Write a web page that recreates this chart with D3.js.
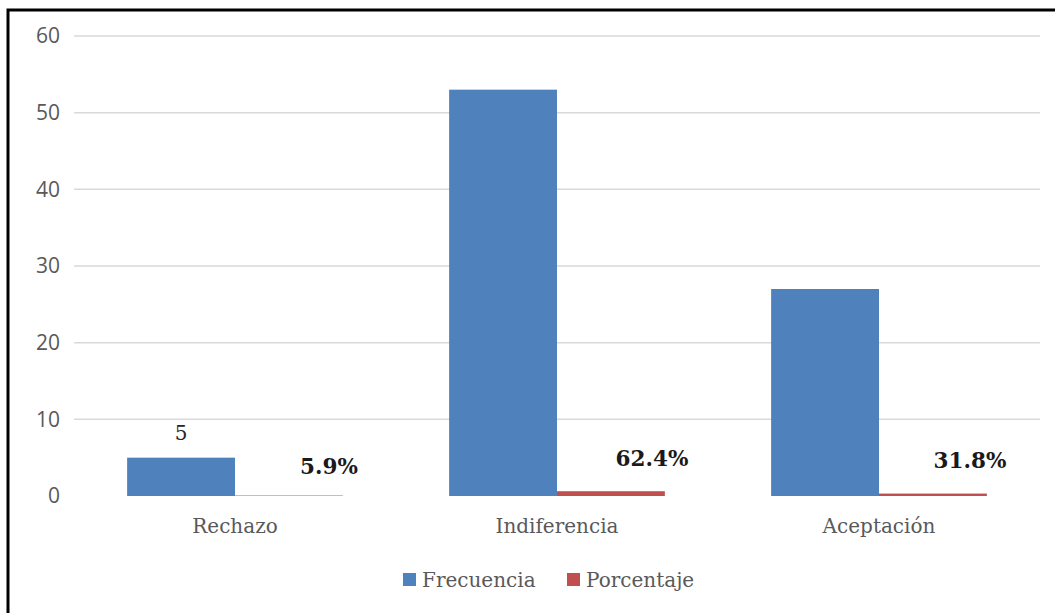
<!DOCTYPE html>
<html>
<head>
<meta charset="utf-8">
<script src="https://cdn.jsdelivr.net/npm/d3@7"></script>
<style>
  body { margin: 0; background: #fff; }
  svg { display: block; }
</style>
</head>
<body>
<svg id="chart" width="1055" height="613"></svg>
<script>
// chart data
const categories = ["Rechazo", "Indiferencia", "Aceptación"];
const frecuencia = [5, 53, 27];
const porcentaje = [5.9, 62.4, 31.8];
const seriesNames = ["Frecuencia", "Porcentaje"];
const yTicks = [0, 10, 20, 30, 40, 50, 60];

const colors = ["#4f81bd", "#c0504d"];
const serif = "'DejaVu Serif', serif";
const sans = "'Open Sans', sans-serif";

const svg = d3.select("#chart");

// frame (only top and left edges are visible in the picture)
svg.append("path")
  .attr("d", "M8,613 L8,10 L1055,10")
  .attr("fill", "none")
  .attr("stroke", "#000")
  .attr("stroke-width", 3);

const margin = { left: 74, right: 15, top: 36, bottom: 117 };
const width = 1055 - margin.left - margin.right;
const height = 613 - margin.top - margin.bottom;

const g = svg.append("g").attr("transform", `translate(${margin.left},${margin.top})`);

const x = d3.scaleBand().domain(categories).range([0, width]).paddingInner(0.33).paddingOuter(0.165);
const xs = d3.scaleBand().domain(seriesNames).range([0, x.bandwidth()]);
const y = d3.scaleLinear().domain([0, 60]).range([height, 0]);

// gridlines (no line at zero)
g.selectAll(".grid")
  .data(yTicks.filter((d) => d > 0))
  .enter()
  .append("line")
  .attr("class", "grid")
  .attr("x1", 0)
  .attr("x2", width)
  .attr("y1", (d) => y(d))
  .attr("y2", (d) => y(d))
  .attr("stroke", "#d9d9d9")
  .attr("stroke-width", 1.5);

// y tick labels
g.selectAll(".ytick")
  .data(yTicks)
  .enter()
  .append("text")
  .attr("x", -14)
  .attr("y", (d) => y(d))
  .attr("dy", "0.35em")
  .attr("text-anchor", "end")
  .attr("font-family", sans)
  .attr("font-size", 21)
  .attr("fill", "#595959")
  .text((d) => d);

// rows: one per category, percentages plotted as fractions on the same axis
const rows = categories.map((c, i) => ({
  cat: c,
  values: [
    { key: "Frecuencia", v: frecuencia[i], label: String(frecuencia[i]) },
    { key: "Porcentaje", v: porcentaje[i] / 100, label: porcentaje[i].toFixed(1) + "%" },
  ],
}));

const groups = g.selectAll(".cat")
  .data(rows)
  .enter()
  .append("g")
  .attr("class", "cat")
  .attr("transform", (d) => `translate(${x(d.cat)},0)`);

groups.selectAll("rect")
  .data((d) => d.values)
  .enter()
  .append("rect")
  .attr("x", (d) => xs(d.key))
  .attr("width", xs.bandwidth())
  .attr("y", (d) => y(d.v))
  .attr("height", (d) => y(0) - y(d.v))
  .attr("fill", (d, i) => colors[i]);

// value label for frequency only on first category (as in the picture)
groups.filter((d, i) => i === 0)
  .append("text")
  .attr("x", xs("Frecuencia") + xs.bandwidth() / 2)
  .attr("y", (d) => y(d.values[0].v) - 18)
  .attr("text-anchor", "middle")
  .attr("font-family", serif)
  .attr("font-size", 20)
  .attr("fill", "#262626")
  .text((d) => d.values[0].label);

// bold percentage labels, offset to the right of the red bars
const pctOffset = [[40, -30], [41, -38], [37, -36]];
groups.append("text")
  .attr("x", (d, i) => xs("Porcentaje") + xs.bandwidth() / 2 + pctOffset[i][0])
  .attr("y", (d, i) => y(0) + pctOffset[i][1])
  .attr("dy", "0.35em")
  .attr("text-anchor", "middle")
  .attr("font-family", serif)
  .attr("font-weight", "bold")
  .attr("font-size", 21.5)
  .attr("fill", "#1a1a1a")
  .text((d) => d.values[1].label);

// category labels
g.selectAll(".xlabel")
  .data(categories)
  .enter()
  .append("text")
  .attr("x", (d) => x(d) + x.bandwidth() / 2)
  .attr("y", height + 37)
  .attr("text-anchor", "middle")
  .attr("font-family", serif)
  .attr("font-size", 20)
  .attr("fill", "#595959")
  .text((d) => d);

// legend
const legendX = [403, 567];
const legend = svg.selectAll(".legend")
  .data(seriesNames)
  .enter()
  .append("g")
  .attr("class", "legend")
  .attr("transform", (d, i) => `translate(${legendX[i]},573)`);

legend.append("rect")
  .attr("width", 13)
  .attr("height", 13)
  .attr("fill", (d, i) => colors[i]);

legend.append("text")
  .attr("x", 19)
  .attr("y", 7)
  .attr("dy", "0.35em")
  .attr("font-family", serif)
  .attr("font-size", 20)
  .attr("fill", "#595959")
  .text((d) => d);
</script>
</body>
</html>
